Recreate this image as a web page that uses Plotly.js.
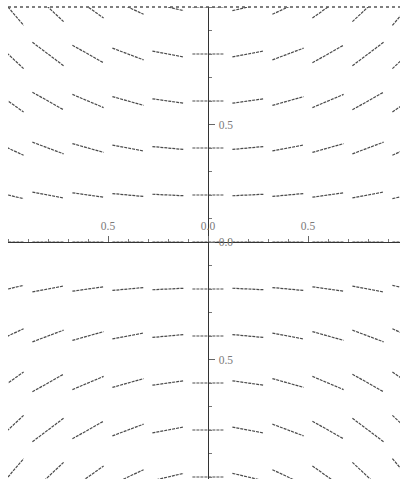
<!DOCTYPE html>
<html>
<head>
<meta charset="utf-8">
<script src="https://cdn.plot.ly/plotly-3.0.1.min.js"></script>
<style>html,body{margin:0;padding:0;background:#fff;}#chart{width:400px;height:479px;}</style>
</head>
<body>
<div id="chart"></div>
<script>
// Grid points of the slope field
var xGrid = [-1.0, -0.8, -0.6, -0.4, -0.2, 0.0, 0.2, 0.4, 0.6, 0.8, 1.0];
var yGrid = [1.0, 0.8, 0.6, 0.4, 0.2, 0.0, -0.2, -0.4, -0.6, -0.8, -1.0];
// Slope read at each grid point (rows follow yGrid, columns follow xGrid)
var slopeRows = [
  [-1.00, -0.80, -0.60, -0.40, -0.20, 0.00, 0.20, 0.40, 0.60, 0.80, 1.00],
  [-0.80, -0.64, -0.48, -0.32, -0.16, 0.00, 0.16, 0.32, 0.48, 0.64, 0.80],
  [-0.60, -0.48, -0.36, -0.24, -0.12, 0.00, 0.12, 0.24, 0.36, 0.48, 0.60],
  [-0.40, -0.32, -0.24, -0.16, -0.08, 0.00, 0.08, 0.16, 0.24, 0.32, 0.40],
  [-0.20, -0.16, -0.12, -0.08, -0.04, 0.00, 0.04, 0.08, 0.12, 0.16, 0.20],
  [ 0.00,  0.00,  0.00,  0.00,  0.00, 0.00, 0.00, 0.00, 0.00, 0.00, 0.00],
  [ 0.20,  0.16,  0.12,  0.08,  0.04, 0.00, -0.04, -0.08, -0.12, -0.16, -0.20],
  [ 0.40,  0.32,  0.24,  0.16,  0.08, 0.00, -0.08, -0.16, -0.24, -0.32, -0.40],
  [ 0.60,  0.48,  0.36,  0.24,  0.12, 0.00, -0.12, -0.24, -0.36, -0.48, -0.60],
  [ 0.80,  0.64,  0.48,  0.32,  0.16, 0.00, -0.16, -0.32, -0.48, -0.64, -0.80],
  [ 1.00,  0.80,  0.60,  0.40,  0.20, 0.00, -0.20, -0.40, -0.60, -0.80, -1.00]
];
// Axis tick labels
var xTickVals = [-0.5, 0.0, 0.5];
var xTickText = ['0.5', '0.0', '0.5'];
var yTickVals = [-0.5, 0.0, 0.5];
var yTickText = ['0.5', '0.0', '0.5'];

// Build line segments (half extent in x)
var HALF = 0.078;
var sx = [], sy = [];
for (var r = 0; r < yGrid.length; r++) {
  for (var c = 0; c < xGrid.length; c++) {
    var x0 = xGrid[c], y0 = yGrid[r], m = slopeRows[r][c];
    sx.push(x0 - HALF, x0 + HALF, null);
    sy.push(y0 - m * HALF, y0 + m * HALF, null);
  }
}

var tickFont = {family: 'Liberation Serif, DejaVu Serif, serif', size: 11.5, color: '#7a7a7a'};

var data = [{
  type: 'scatter', mode: 'lines', x: sx, y: sy,
  line: {color: '#4a4a4a', width: 1.2, dash: '3px,1px'},
  hoverinfo: 'skip', showlegend: false
}];

var layout = {
  width: 400, height: 479,
  margin: {l: 8, r: 0, t: 7, b: 0, pad: 0},
  paper_bgcolor: '#ffffff', plot_bgcolor: '#ffffff',
  showlegend: false,
  xaxis: {
    range: [-1.0, 0.96], anchor: 'free', position: 1.0085 / 2.0085, side: 'top',
    showgrid: false, zeroline: false, showline: true, linecolor: '#333', linewidth: 1.4,
    tickmode: 'array', tickvals: xTickVals, ticktext: xTickText,
    ticks: 'outside', ticklen: 6, tickcolor: '#666', tickwidth: 1,
    tickfont: tickFont, ticklabelstandoff: 1,
    minor: {tickmode: 'linear', tick0: 0, dtick: 0.1, ticks: 'outside', ticklen: 3, tickcolor: '#777', showgrid: false}
  },
  yaxis: {
    range: [-1.0085, 1.0], anchor: 'free', position: 200 / 392, side: 'right',
    showgrid: false, zeroline: false, showline: true, linecolor: '#333', linewidth: 1.4,
    tickmode: 'array', tickvals: yTickVals, ticktext: yTickText,
    ticks: 'outside', ticklen: 6, tickcolor: '#666', tickwidth: 1,
    tickfont: tickFont, ticklabelstandoff: 1,
    minor: {tickmode: 'linear', tick0: 0, dtick: 0.1, ticks: 'outside', ticklen: 3, tickcolor: '#777', showgrid: false}
  },
  shapes: [{
    type: 'line', xref: 'paper', yref: 'paper', x0: 0, x1: 1, y0: 1, y1: 1,
    line: {color: '#555', width: 1.6, dash: 'dot'}
  }]
};

Plotly.newPlot('chart', data, layout, {staticPlot: true, displayModeBar: false});
</script>
</body>
</html>
